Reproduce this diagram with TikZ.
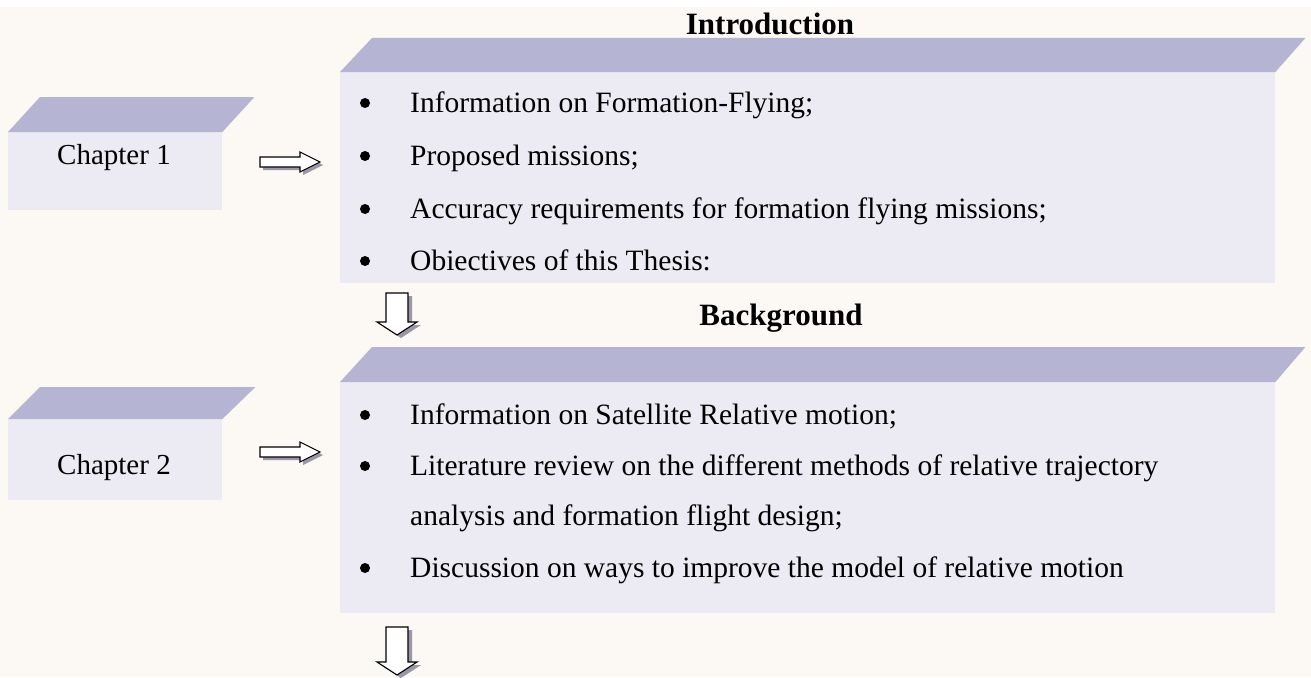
\documentclass[tikz,border=0pt]{standalone}
\usepackage{fontspec}
\setmainfont{Liberation Serif}
\usetikzlibrary{calc}
\definecolor{bgcol}{HTML}{FCF8F4}
\definecolor{topcol}{HTML}{B6B4D3}
\definecolor{frontcol}{HTML}{ECEAF2}
\definecolor{shadowcol}{HTML}{9A98A8}
\tikzset{
  front/.style={fill=frontcol, draw=none, inner sep=0pt, anchor=north west},
  topface/.style={fill=topcol, draw=none},
  item/.style={anchor=base west, inner sep=0pt, font=\fontsize{29.5}{35}\selectfont},
  chap/.style={anchor=base west, inner sep=0pt, font=\fontsize{29}{35}\selectfont},
  title/.style={anchor=base, inner sep=0pt, font=\fontsize{31}{36}\selectfont\bfseries},
  dot/.style={circle, fill=black, draw=none, inner sep=0pt, minimum size=10pt},
  blockarrow/.style={draw=black, fill=white, line width=1.1pt, line join=miter},
  arrowshadow/.style={fill=shadowcol, draw=none},
  pics/rarrow/.style={code={
    \begin{scope}[shift={(3,3)}]
      \fill[arrowshadow] (-60,-5) -- (-20,-5) -- (-20,-10) -- (0,0) -- (-20,10) -- (-20,5) -- (-60,5) -- cycle;
    \end{scope}
    \filldraw[blockarrow] (-60,-5) -- (-20,-5) -- (-20,-10) -- (0,0) -- (-20,10) -- (-20,5) -- (-60,5) -- cycle;
  }},
  pics/darrow/.style={code={
    \begin{scope}[shift={(4,3)}]
      \fill[arrowshadow] (-11,-#1) -- (11,-#1) -- (11,-13) -- (20,-13) -- (0,0) -- (-20,-13) -- (-11,-13) -- cycle;
    \end{scope}
    \filldraw[blockarrow] (-11,-#1) -- (11,-#1) -- (11,-13) -- (20,-13) -- (0,0) -- (-20,-13) -- (-11,-13) -- cycle;
  }}
}
\begin{document}
\begin{tikzpicture}[x=1pt,y=-1pt]
\useasboundingbox (0,0) rectangle (1311,677);
\fill[bgcol] (0,0) rectangle (1311,677);
\fill[white] (0,0) rectangle (1311,7);

% big box 1
\node[front, minimum width=935pt, minimum height=211pt] (box1) at (340,72) {};
\fill[topface] (box1.north west) -- (box1.north east) -- ++(30,-34) -- ($(box1.north west)+(32,-34)$) -- cycle;
% big box 2
\node[front, minimum width=935pt, minimum height=231pt] (box2) at (340,382) {};
\fill[topface] (box2.north west) -- (box2.north east) -- ++(30,-35) -- ($(box2.north west)+(32,-35)$) -- cycle;
% chapter boxes
\node[front, minimum width=214pt, minimum height=78pt] (ch1) at (8,132) {};
\fill[topface] (ch1.north west) -- (ch1.north east) -- ++(32,-35) -- ($(ch1.north west)+(32,-35)$) -- cycle;
\node[front, minimum width=214pt, minimum height=81pt] (ch2) at (8,419) {};
\fill[topface] (ch2.north west) -- (ch2.north east) -- ++(33,-32) -- ($(ch2.north west)+(32,-32)$) -- cycle;

% titles
\node[title] (t1) at (770,35) {Introduction};
\node[title] (t2) at (781,325) {Background};

% chapter labels
\node[chap] (c1) at (57,164) {Chapter 1};
\node[chap] (c2) at (57,474) {Chapter 2};

% block arrows
\pic at (320,162) {rarrow};
\pic at (320,452) {rarrow};
\pic at (397,335) {darrow=42};
\pic at (397,675) {darrow=48};

% items box 1
\node[dot] (b11) at (365,103) {};
\node[item] (i11) at (410,112) {Information on Formation-Flying;};
\node[dot] (b12) at (365,156) {};
\node[item] (i12) at (410,165) {Proposed missions;};
\node[dot] (b13) at (365,209) {};
\node[item] (i13) at (410,218) {Accuracy requirements for formation flying missions;};
\node[dot] (b14) at (365,261) {};
\node[item] (i14) at (410,270) {Obiectives of this Thesis:};

% items box 2
\node[dot] (b21) at (365,415) {};
\node[item] (i21) at (410,424) {Information on Satellite Relative motion;};
\node[dot] (b22) at (365,466) {};
\node[item] (i22) at (410,475) {Literature review on the different methods of relative trajectory};
\node[item] (i23) at (410,525) {analysis and formation flight design;};
\node[dot] (b24) at (365,568) {};
\node[item] (i24) at (410,577) {Discussion on ways to improve the model of relative motion};
\end{tikzpicture}
\end{document}
